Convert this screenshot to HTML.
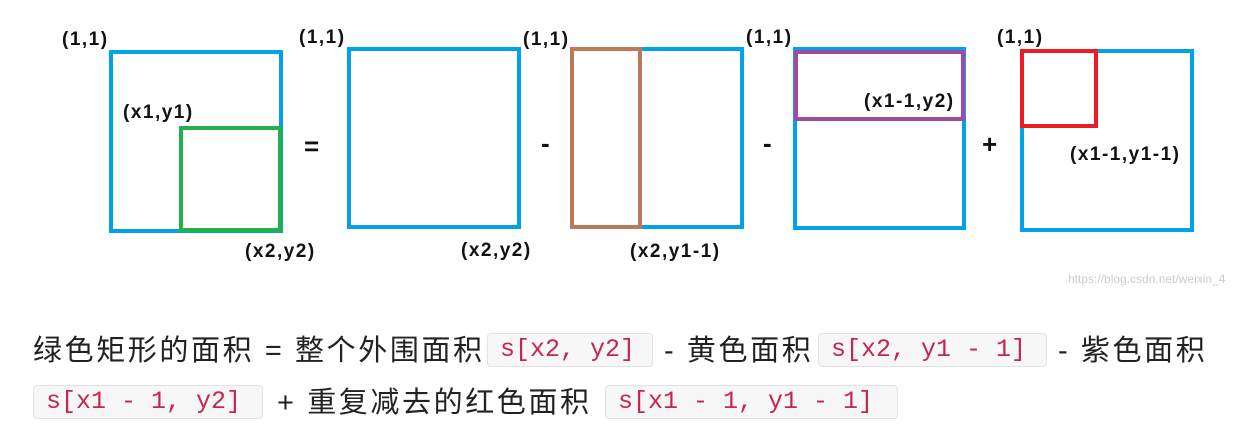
<!DOCTYPE html>
<html><head><meta charset="utf-8"><style>
body{margin:0;width:1242px;height:440px;background:#fff;position:relative;overflow:hidden}
.l{position:absolute;font:bold 19px "Liberation Sans",sans-serif;letter-spacing:1.5px;color:#111;white-space:nowrap;line-height:1}
.op{position:absolute;font:bold 26px "Liberation Sans",sans-serif;color:#111;line-height:1}
.t{position:absolute;font-size:29px;font-family:"Liberation Sans","Noto Sans CJK SC",sans-serif;color:#222;white-space:nowrap;line-height:1;letter-spacing:2.6px}
.c{position:absolute;height:34px;background:#f7f7f7;border:1px solid #e3e3e3;border-radius:4px;box-sizing:border-box;font:25px "Liberation Mono",monospace;color:#c7254e;line-height:32px;padding-left:12px;white-space:pre}
</style></head><body>
<svg width="1242" height="440" style="position:absolute;left:0;top:0" fill="none" stroke-width="4">
<rect x="111" y="52" width="170" height="179" stroke="#00a2e8"/>
<rect x="181" y="128" width="99" height="102" stroke="#22b14c"/>
<rect x="349" y="49" width="170" height="178" stroke="#00a2e8"/>
<rect x="572" y="49" width="170" height="178" stroke="#00a2e8"/>
<rect x="572" y="49" width="68" height="178" stroke="#b97a57"/>
<rect x="795" y="49" width="169" height="179" stroke="#00a2e8"/>
<rect x="796" y="52" width="167" height="67" stroke="#a349a4"/>
<rect x="1022" y="51" width="170" height="179" stroke="#00a2e8"/>
<rect x="1022" y="51" width="74" height="75" stroke="#ed1c24"/>
</svg>
<div class="l" style="left:62px;top:30px">(1,1)</div>
<div class="l" style="left:123px;top:103px">(x1,y1)</div>
<div class="l" style="left:245px;top:242px">(x2,y2)</div>
<div class="op" style="left:304px;top:133px">=</div>
<div class="l" style="left:299px;top:28px">(1,1)</div>
<div class="l" style="left:461px;top:241px">(x2,y2)</div>
<div class="op" style="left:541px;top:130px">-</div>
<div class="l" style="left:523px;top:30px">(1,1)</div>
<div class="l" style="left:630px;top:242px">(x2,y1-1)</div>
<div class="op" style="left:763px;top:130px">-</div>
<div class="l" style="left:746px;top:28px">(1,1)</div>
<div class="l" style="left:864px;top:92px">(x1-1,y2)</div>
<div class="op" style="left:982px;top:131px">+</div>
<div class="l" style="left:997px;top:28px">(1,1)</div>
<div class="l" style="left:1070px;top:145px">(x1-1,y1-1)</div>
<div style="position:absolute;left:1068px;top:272px;font:12px 'Liberation Sans',sans-serif;color:#ccc">https://blog.csdn.net/weixin_4</div>
<div class="t" style="left:33px;top:337px">绿色矩形的面积 = 整个外围面积</div>
<div class="c" style="left:487px;top:333px;width:166px">s[x2, y2]</div>
<div class="t" style="left:664px;top:337px">- 黄色面积</div>
<div class="c" style="left:818px;top:333px;width:229px">s[x2, y1 - 1]</div>
<div class="t" style="left:1058px;top:337px">- 紫色面积</div>
<div class="c" style="left:33px;top:385px;width:230px">s[x1 - 1, y2]</div>
<div class="t" style="left:277px;top:389px">+ 重复减去的红色面积</div>
<div class="c" style="left:605px;top:385px;width:293px">s[x1 - 1, y1 - 1]</div>
</body></html>
